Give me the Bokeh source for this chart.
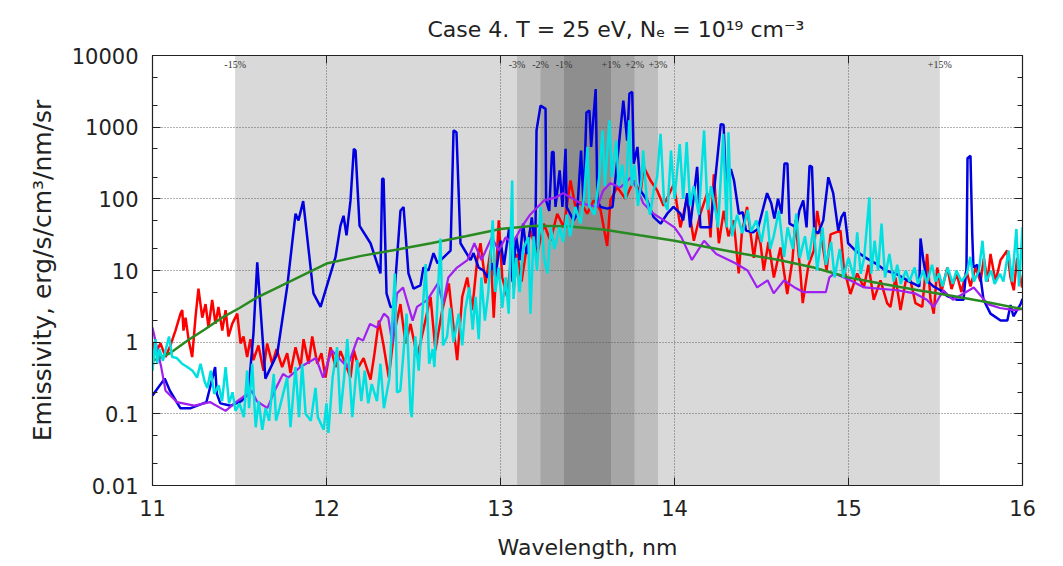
from bokeh.plotting import figure
from bokeh.models import FixedTicker, LinearAxis, LogAxis, CustomJSTickFormatter
from bokeh.core.properties import value
from bokeh.embed import file_html
from bokeh.resources import INLINE

title_text = "Case 4. T = 25 eV, Nₑ = 10¹⁹ cm⁻³"
x_label = "Wavelength, nm"
y_label = "Emissivity, erg/s/cm³/nm/sr"

x_ticks = [11, 12, 13, 14, 15, 16]
y_ticks = [0.01, 0.1, 1, 10, 100, 1000, 10000]
y_minor = [m * d for d in [0.01, 0.1, 1, 10, 100, 1000] for m in (2, 5)]

band_center = 13.5
band_pcts = [15, 3, 2, 1]
band_fills = ["#d9d9d9", "#bebebe", "#a6a6a6", "#8e8e8e"]

green_x = [11.0, 11.1, 11.2, 11.3, 11.4, 11.5, 11.6, 11.7, 11.8, 11.9, 12.0, 12.2, 12.4, 12.6, 12.8,
           13.0, 13.2, 13.4, 13.6, 13.8, 14.0, 14.2, 14.4, 14.6, 14.8, 15.0, 15.2, 15.4, 15.6, 15.8, 16.0]
green_y = [0.55, 0.7, 1.05, 1.5, 2.2, 3.0, 4.2, 5.5, 7.2, 9.5, 12.5, 16, 19.5, 24, 30,
           38, 42, 41, 37, 31, 26, 21, 17, 14, 11, 8.0, 6.5, 5.3, 4.4, 3.6, 2.9]

blue_x = [11.00, 11.07, 11.10, 11.16, 11.22, 11.31, 11.36, 11.37, 11.39, 11.45, 11.51, 11.55, 11.58,
          11.602, 11.649, 11.717, 11.774, 11.822, 11.839, 11.866, 11.925, 11.966, 12.052, 12.080,
          12.098, 12.115, 12.138, 12.157, 12.167, 12.190, 12.253, 12.291, 12.310, 12.320, 12.328,
          12.345, 12.368, 12.385, 12.425, 12.443, 12.471, 12.500, 12.540, 12.557, 12.586, 12.615,
          12.638, 12.713, 12.730, 12.747, 12.770, 12.828, 12.845, 12.874, 12.902, 12.925, 12.954,
          12.97, 13.00, 13.02, 13.05, 13.07, 13.09, 13.11, 13.13, 13.15, 13.18, 13.20, 13.207,
          13.23, 13.259, 13.262, 13.28, 13.296, 13.305, 13.316, 13.34, 13.356, 13.374, 13.38,
          13.42, 13.44, 13.463, 13.477, 13.494, 13.511, 13.521, 13.547, 13.557, 13.575, 13.615,
          13.644, 13.706, 13.728, 13.741, 13.757, 13.766, 13.787, 13.805, 13.843, 13.879, 13.92,
          13.958, 13.994, 14.034, 14.05, 14.073, 14.09, 14.13, 14.149, 14.207, 14.226, 14.266,
          14.282, 14.295, 14.324, 14.342, 14.37, 14.392, 14.411, 14.45, 14.479, 14.532, 14.556,
          14.574, 14.595, 14.615, 14.632, 14.649, 14.661, 14.70, 14.718, 14.74, 14.759, 14.776,
          14.79, 14.803, 14.826, 14.855, 14.884, 14.912, 14.941, 14.96, 14.977, 14.998, 15.04,
          15.09, 15.155, 15.213, 15.27, 15.35, 15.407, 15.414, 15.43, 15.45, 15.488, 15.529,
          15.567, 15.625, 15.661, 15.678, 15.684, 15.701, 15.711, 15.718, 15.74, 15.759, 15.776,
          15.816, 15.874, 15.913, 15.931, 15.948, 15.989, 16.0]
blue_y = [0.18, 0.31, 0.21, 0.12, 0.12, 0.146, 0.45, 0.19, 0.14, 0.13, 0.15, 0.19, 1.3,
          13, 0.31, 0.69, 5.9, 62, 50, 93, 4.8, 3.1, 15.5, 42,
          58, 31, 95, 500, 470, 42, 24, 12.6, 9.1, 190, 190,
          4.8, 3.1, 3.1, 68, 77, 9.1, 5.6, 6.2, 11, 10, 17.5,
          12.6, 19, 900, 850, 24, 14, 17.5, 11, 10, 8, 12.6,
          8, 26, 12, 40, 7, 30, 14, 45, 17, 55, 20, 900,
          2000, 1800, 95, 68, 450, 450, 77, 250, 77, 500, 77,
          50, 62, 470, 86, 1600, 1700, 530, 3400, 95, 77, 73,
          77, 2350, 650, 2950, 3100, 310, 530, 130, 95, 56, 45,
          62, 77, 62, 50, 120, 40, 280, 40, 40, 120, 1100,
          1080, 180, 260, 180, 62, 65, 36, 34, 38, 120, 87,
          53, 100, 62, 310, 310, 45, 40, 69, 95, 40, 290,
          280, 36, 33, 50, 200, 120, 36, 56, 65, 24, 19,
          15.5, 12.6, 10, 9.1, 7, 6, 28, 14, 7.3, 6, 5.3,
          4.4, 3.9, 3.9, 11, 370, 400, 33, 11, 12, 8, 3.9,
          2.5, 2.0, 2.0, 3.3, 2.3, 3.4, 4.0]

purple_x = [11.00, 11.05, 11.075, 11.14, 11.24, 11.33, 11.42, 11.48, 11.57, 11.60, 11.66, 11.71,
            11.75, 11.78, 11.85, 11.94, 11.98, 12.03, 12.07, 12.12, 12.18, 12.21, 12.25, 12.29,
            12.33, 12.355, 12.378, 12.405, 12.44, 12.495, 12.52, 12.58, 12.64, 12.67, 12.70,
            12.75, 12.81, 12.85, 12.89, 12.95, 12.99, 13.03, 13.07, 13.12, 13.17, 13.25, 13.32,
            13.36, 13.46, 13.556, 13.59, 13.63, 13.69, 13.75, 13.79, 13.82, 13.88, 13.94, 14.0,
            14.04, 14.10, 14.17, 14.24, 14.35, 14.42, 14.475, 14.535, 14.57, 14.63, 14.69, 14.74,
            14.8, 14.87, 14.89, 14.92, 15.01, 15.09, 15.28, 15.38, 15.45, 15.49, 15.545, 15.60,
            15.72, 15.80, 15.87, 15.95, 16.0]
purple_y = [1.6, 0.45, 0.21, 0.146, 0.13, 0.146, 0.11, 0.146, 0.21, 0.15, 0.12, 0.23,
            0.36, 0.32, 0.45, 0.6, 0.32, 0.77, 0.6, 0.45, 1.15, 1.05, 1.8, 1.6,
            2.5, 2.2, 0.96, 4.8, 5.8, 2.0, 3.1, 3.9, 6.6, 3.4, 8,
            11, 14, 24, 14, 29, 19, 29, 24, 40, 60, 95, 105,
            120, 87, 77, 130, 165, 145, 200, 130, 87, 62, 50, 40,
            29, 14, 26, 17, 12.6, 10, 5.8, 7.3, 4.8, 7.3, 5.8, 5,
            5, 5, 8, 9.1, 7.3, 5.8, 5.3, 4.8, 3.9, 3.1, 5.3, 3.9,
            5.8, 3.4, 3.0, 2.8, 2.9]

red_x = [11.0, 11.017, 11.046, 11.075, 11.103, 11.132, 11.161, 11.171, 11.178, 11.19, 11.207, 11.228,
         11.247, 11.264, 11.286, 11.305, 11.322, 11.343, 11.362, 11.379, 11.401, 11.42, 11.437,
         11.458, 11.487, 11.506, 11.523, 11.544, 11.563, 11.58, 11.609, 11.638, 11.659, 11.688,
         11.713, 11.745, 11.774, 11.793, 11.822, 11.851, 11.868, 11.897, 11.918, 11.947, 11.971,
         11.994, 12.023, 12.052, 12.08, 12.109, 12.138, 12.157, 12.184, 12.213, 12.253, 12.276,
         12.301, 12.328, 12.358, 12.385, 12.425, 12.454, 12.483, 12.521, 12.557, 12.598, 12.626,
         12.665, 12.703, 12.732, 12.751, 12.78, 12.809, 12.837, 12.866, 12.885, 12.914, 12.943,
         12.961, 12.99, 13.01, 13.038, 13.057, 13.077, 13.096, 13.121, 13.149, 13.172, 13.211,
         13.249, 13.287, 13.326, 13.364, 13.402, 13.431, 13.46, 13.498, 13.536, 13.575, 13.613,
         13.632, 13.671, 13.718, 13.766, 13.805, 13.823, 13.862, 13.901, 13.937, 13.996, 14.034,
         14.073, 14.111, 14.149, 14.188, 14.207, 14.226, 14.255, 14.283, 14.31, 14.34, 14.369,
         14.387, 14.417, 14.456, 14.477, 14.494, 14.513, 14.54, 14.571, 14.609, 14.648, 14.678,
         14.695, 14.724, 14.737, 14.77, 14.801, 14.82, 14.839, 14.874, 14.897, 14.954, 14.973,
         15.011, 15.05, 15.088, 15.115, 15.145, 15.184, 15.222, 15.241, 15.27, 15.299, 15.328,
         15.356, 15.385, 15.424, 15.452, 15.471, 15.49, 15.51, 15.534, 15.568, 15.592, 15.621,
         15.649, 15.678, 15.701, 15.73, 15.759, 15.778, 15.799, 15.816, 15.845, 15.874, 15.912,
         15.931, 15.95, 15.969, 15.998]
red_y = [1.0, 0.7, 0.96, 0.62, 0.9, 1.45, 2.5, 2.8, 1.45, 2.2, 1.1, 0.62,
         2.2, 5.6, 2.2, 3.4, 1.6, 3.9, 1.8, 3.1, 1.45, 2.8, 1.2,
         1.8, 2.5, 0.96, 1.2, 0.62, 1.1, 0.56, 0.9, 0.4, 0.96, 0.5,
         0.8, 0.45, 0.7, 0.37, 0.85, 0.45, 1.1, 0.5, 1.2, 0.5, 0.7,
         0.32, 0.85, 0.45, 0.75, 0.5, 0.32, 0.77, 0.45, 0.6, 0.3, 0.7,
         2.0, 0.9, 0.32, 1.2, 3.4, 0.96, 1.8, 0.62, 1.5, 4.3, 0.77,
         2.8, 6.6, 1.45, 0.56, 4.3, 8, 2.8, 14, 24, 6.6, 19,
         2.2, 50, 8, 4.3, 12, 5.8, 17, 7, 20, 36, 17,
         45, 26, 62, 40, 180, 77, 90, 62, 95, 70, 22,
         95, 145, 100, 180, 120, 280, 180, 130, 80, 160, 40,
         105, 26, 62, 120, 29, 220, 24, 68, 30, 50, 9.1,
         33, 77, 15, 35, 24, 10, 25, 8, 21, 4.7, 14,
         50, 9.1, 3.5, 12, 19, 68, 36, 10, 32, 36, 11,
         4.7, 9.1, 5.8, 12, 3.9, 7.3, 3.5, 3.1, 8, 2.8, 7,
         7.3, 3.5, 3.1, 17, 4, 2.5, 11, 5, 11, 5.5, 9,
         5, 10, 6, 11, 7, 15, 7, 17, 7, 14, 19,
         8, 5.3, 15, 5.8]

cyan_x = [11.0, 11.017, 11.027, 11.04, 11.06, 11.095, 11.113, 11.14, 11.17, 11.2, 11.23, 11.256,
          11.276, 11.3, 11.315, 11.335, 11.355, 11.38, 11.4, 11.42, 11.44, 11.46, 11.477, 11.5,
          11.525, 11.544, 11.555, 11.573, 11.593, 11.61, 11.631, 11.65, 11.67, 11.697, 11.71,
          11.73, 11.774, 11.793, 11.822, 11.842, 11.86, 11.88, 11.91, 11.937, 11.95, 11.984,
          12.0, 12.011, 12.035, 12.061, 12.08, 12.1, 12.12, 12.148, 12.177, 12.2, 12.22, 12.24,
          12.26, 12.29, 12.31, 12.33, 12.36, 12.393, 12.405, 12.424, 12.44, 12.46, 12.483, 12.49,
          12.51, 12.53, 12.55, 12.57, 12.59, 12.61, 12.62, 12.655, 12.67, 12.693, 12.71, 12.73,
          12.76, 12.78, 12.797, 12.82, 12.84, 12.857, 12.875, 12.89, 12.91, 12.93, 12.955, 12.97,
          12.99, 13.01, 13.03, 13.047, 13.067, 13.075, 13.09, 13.11, 13.13, 13.16, 13.172, 13.19,
          13.21, 13.23, 13.25, 13.27, 13.29, 13.31, 13.34, 13.36, 13.38, 13.40, 13.43, 13.46,
          13.48, 13.5, 13.51, 13.54, 13.567, 13.586, 13.6, 13.626, 13.64, 13.665, 13.68, 13.7,
          13.72, 13.74, 13.755, 13.77, 13.79, 13.81, 13.82, 13.84, 13.86, 13.88, 13.9, 13.92,
          13.94, 13.96, 13.98, 14.0, 14.03, 14.05, 14.07, 14.09, 14.11, 14.14, 14.17, 14.19,
          14.21, 14.24, 14.25, 14.28, 14.3, 14.31, 14.33, 14.36, 14.39, 14.42, 14.44, 14.47,
          14.5, 14.53, 14.55, 14.57, 14.6, 14.63, 14.65, 14.68, 14.7, 14.72, 14.75, 14.77,
          14.8, 14.82, 14.85, 14.87, 14.9, 14.92, 14.95, 14.97, 15.0, 15.03, 15.05, 15.07,
          15.09, 15.12, 15.13, 15.15, 15.17, 15.19, 15.21, 15.235, 15.26, 15.28, 15.3, 15.33,
          15.35, 15.38, 15.4, 15.43, 15.45, 15.48, 15.5, 15.52, 15.54, 15.57, 15.6, 15.62,
          15.65, 15.68, 15.7, 15.72, 15.75, 15.77, 15.79, 15.82, 15.84, 15.87, 15.89, 15.92,
          15.94, 15.965, 15.98, 16.0]
cyan_y = [0.4, 1.1, 0.5, 0.8, 0.55, 1.2, 0.62, 0.6, 0.5, 0.45, 0.4, 0.32,
          0.5, 0.28, 0.23, 0.4, 0.19, 0.25, 0.15, 0.45, 0.14, 0.2, 0.11, 0.14,
          0.09, 0.4, 0.12, 0.5, 0.065, 0.15, 0.06, 0.12, 0.08, 0.36, 0.08,
          0.12, 0.32, 0.065, 0.45, 0.09, 0.5, 0.1, 0.08, 0.23, 0.09, 0.06,
          0.14, 0.054, 0.32, 0.85, 0.1, 0.3, 1.1, 0.09, 0.56, 0.15, 0.4, 0.14,
          0.26, 0.15, 0.5, 0.12, 0.3, 9.1, 0.2, 0.21, 0.6, 2.5, 0.11, 0.09,
          1.2, 0.4, 2.2, 12.3, 0.5, 0.8, 0.45, 28, 0.9, 1.2, 3, 1.0,
          2.5, 0.9, 2.8, 5.8, 1.5, 4.3, 1.1, 8, 2, 5, 50, 5,
          11, 3, 8, 2.5, 180, 4, 15, 5, 20, 29, 2.5, 30,
          10, 77, 15, 9.1, 40, 20, 40, 25, 60, 30, 77, 45,
          105, 530, 80, 60, 200, 900, 150, 1250, 200, 650, 150, 300,
          100, 1250, 150, 300, 80, 180, 470, 100, 60, 130, 200, 810,
          90, 70, 470, 100, 580, 100, 620, 80, 150, 60, 900, 70,
          150, 60, 40, 810, 40, 850, 30, 60, 33, 70, 35, 50,
          25, 68, 20, 30, 68, 15.5, 40, 20, 62, 15, 30, 14,
          40, 10, 40, 12, 25, 8, 20, 8, 15, 8, 34, 9,
          15, 105, 9, 26, 10, 45, 8, 17, 7, 12, 6.5, 10,
          7, 11, 6.5, 10, 6.6, 12, 7, 9.1, 6, 11, 6.5, 10,
          7, 9, 15.5, 7, 10, 26, 7, 10, 6.5, 9, 7, 19,
          7, 38, 6, 40]

p = figure(width=1063, height=566, x_range=(11, 16), y_range=(0.01, 10000), y_axis_type="log",
           output_backend="svg", toolbar_location=None,
           min_border_left=152, min_border_right=41, min_border_top=55, min_border_bottom=81)
p.background_fill_color = "white"
p.border_fill_color = "white"
p.outline_line_color = "#222222"
p.outline_line_width = 1.2

# shaded bands (widest first)
for pct, fill in zip(band_pcts, band_fills):
    p.quad(left=[band_center * (1 - pct / 100)], right=[band_center * (1 + pct / 100)],
           bottom=[0.01], top=[10000], fill_color=fill, line_color=None, level="image")

lab_x, lab_t = [], []
for pct in band_pcts:
    lab_x += [band_center * (1 - pct / 100), band_center * (1 + pct / 100)]
    lab_t += ["-%d%%" % pct, "+%d%%" % pct]
p.text(x=lab_x, y=[10000] * len(lab_x), text=lab_t, text_align="center", text_baseline="top",
       y_offset=3, text_font=value("Liberation Serif"), text_font_size="10px", text_color="#333333")

p.line(red_x, red_y, line_color="#ff0000", line_width=2.5)
p.line(blue_x, blue_y, line_color="#0000e0", line_width=2.5)
p.line(purple_x, purple_y, line_color="#a020f0", line_width=2.2)
p.line(green_x, green_y, line_color="#2a8a22", line_width=2.5)
p.line(cyan_x, cyan_y, line_color="#00e0e0", line_width=2.5)

fmt = CustomJSTickFormatter(code="""
const e = Math.round(Math.log10(tick));
if (e >= 0) return String(Math.round(Math.pow(10, e)));
return Math.pow(10, e).toFixed(-e);
""")
blank = CustomJSTickFormatter(code="return '';")

font = "DejaVu Sans"
for ax in p.xaxis + p.yaxis:
    ax.major_label_text_font = font
    ax.major_label_text_font_size = "21px"
    ax.major_label_text_color = "#222222"
    ax.axis_label_text_font = font
    ax.axis_label_text_font_style = "normal"
    ax.axis_label_text_color = "#222222"
    ax.major_tick_in = 8
    ax.major_tick_out = 0
    ax.minor_tick_in = 5
    ax.minor_tick_out = 0
    ax.axis_line_color = "#222222"
    ax.major_tick_line_color = "#222222"
    ax.minor_tick_line_color = "#222222"

p.xaxis.ticker = FixedTicker(ticks=x_ticks)
p.xaxis.axis_label = x_label
p.xaxis.axis_label_text_font_size = "22px"
p.xaxis.major_label_standoff = 14
p.xaxis.axis_label_standoff = 16
p.yaxis.ticker = FixedTicker(ticks=y_ticks, minor_ticks=y_minor)
p.yaxis.formatter = fmt
p.yaxis.axis_label = y_label
p.yaxis.axis_label_text_font_size = "25px"
p.yaxis.major_label_standoff = 14
p.yaxis.axis_label_standoff = 12

top_ax = LinearAxis(ticker=FixedTicker(ticks=x_ticks), formatter=blank,
                    major_tick_in=8, major_tick_out=0, minor_tick_in=0, minor_tick_out=0,
                    major_label_standoff=0,
                    axis_line_color="#222222", major_tick_line_color="#222222")
p.add_layout(top_ax, "above")
right_ax = LogAxis(ticker=FixedTicker(ticks=y_ticks, minor_ticks=y_minor), formatter=blank,
                   major_tick_in=8, major_tick_out=0, minor_tick_in=5, minor_tick_out=0,
                   major_label_standoff=0,
                   axis_line_color="#222222", major_tick_line_color="#222222",
                   minor_tick_line_color="#222222")
p.add_layout(right_ax, "right")

p.xgrid.ticker = FixedTicker(ticks=x_ticks)
p.ygrid.ticker = FixedTicker(ticks=y_ticks)
for g in (p.xgrid, p.ygrid):
    g.grid_line_color = "#555555"
    g.grid_line_dash = "1 2"
    g.grid_line_width = 1
    g.grid_line_alpha = 0.9

p.title.text = title_text
p.title.align = "left"
p.title.offset = 275
p.title.text_font = font
p.title.text_font_size = "22px"
p.title.text_font_style = "normal"
p.title.text_color = "#222222"
p.title.standoff = 28

open("out.html", "w").write(file_html(p, INLINE))
